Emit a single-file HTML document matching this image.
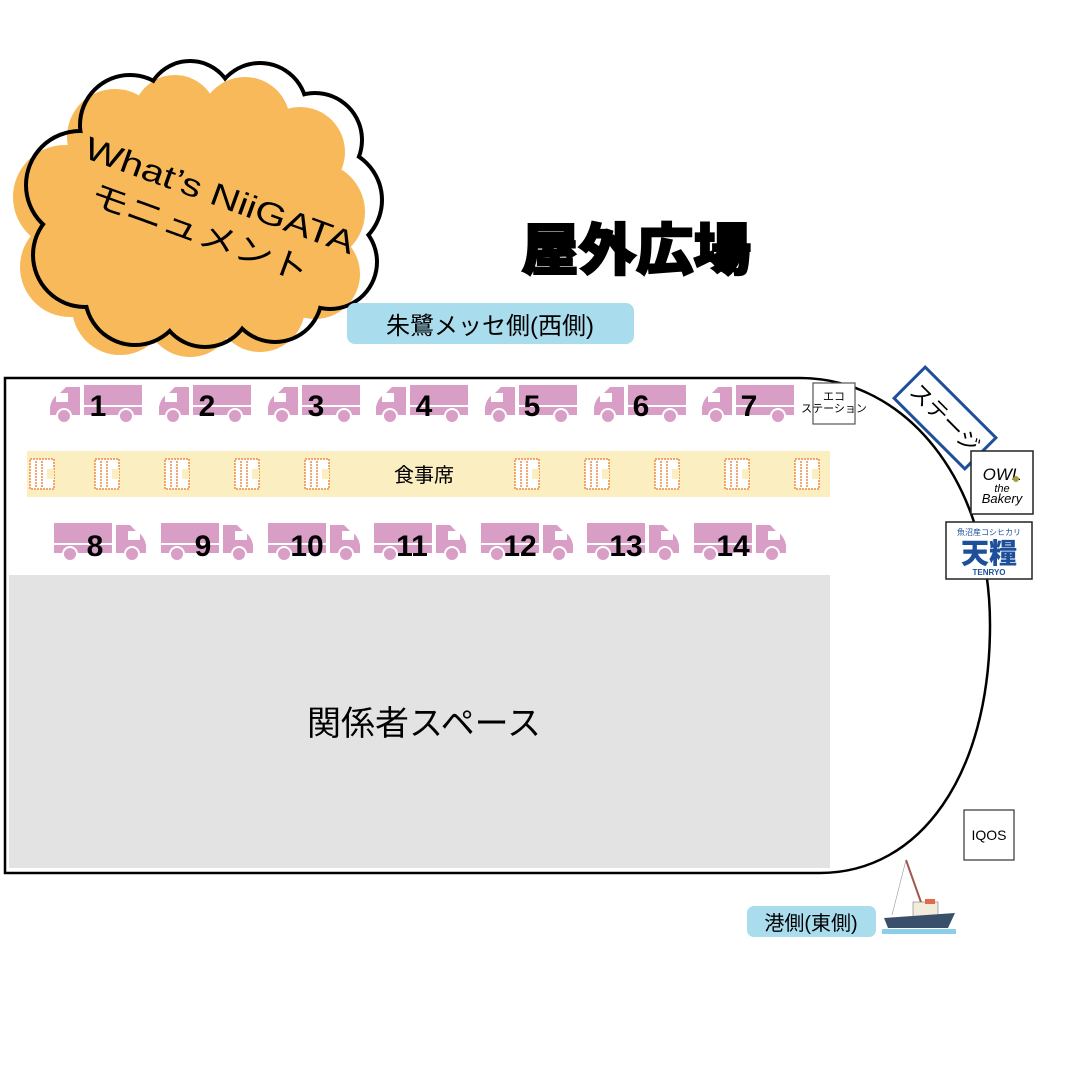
<!DOCTYPE html>
<html><head><meta charset="utf-8"><style>
html,body{margin:0;padding:0;background:#fff}
svg{display:block}
text{font-family:"Liberation Sans","Noto Sans CJK JP",sans-serif}
</style></head><body>
<svg width="1067" height="1067" viewBox="0 0 1067 1067" xmlns="http://www.w3.org/2000/svg">
<defs>
<g id="ob">
<ellipse cx="205" cy="205" rx="135" ry="100"/>
<circle cx="80" cy="185" r="52"/><circle cx="85" cy="255" r="50"/><circle cx="135" cy="295" r="48"/>
<circle cx="205" cy="300" r="45"/><circle cx="275" cy="295" r="45"/><circle cx="330" cy="262" r="45"/>
<circle cx="330" cy="200" r="50"/><circle cx="315" cy="140" r="45"/><circle cx="260" cy="110" r="45"/>
<circle cx="190" cy="105" r="42"/><circle cx="130" cy="125" r="48"/>
</g>
<mask id="m"><rect width="1067" height="1067" fill="#fff"/><use href="#ob" fill="#000"/></mask>
<g id="tl">
<path d="M2,30 L2,22 Q4,12 12,8 L18,2 L32,2 L32,30 Z" fill="#d89ec6"/>
<rect x="8" y="8" width="12" height="9" fill="#fff"/>
<rect x="36" y="0" width="58" height="20" fill="#d89ec6"/>
<rect x="36" y="22" width="58" height="8" fill="#d89ec6"/>
<circle cx="16" cy="31" r="7" fill="#d89ec6" stroke="#fff" stroke-width="2"/>
<circle cx="78" cy="31" r="7" fill="#d89ec6" stroke="#fff" stroke-width="2"/>
</g>
<g id="tr">
<g transform="translate(96,0) scale(-1,1)"><use href="#tl"/></g>
</g>
<g id="ch">
<rect x="0" y="0" width="24" height="30" fill="#fff" stroke="#f08a40" stroke-width="1.5" stroke-dasharray="2 1"/>
<line x1="6" y1="2" x2="6" y2="28" stroke="#f08a40" stroke-width="1.5" stroke-dasharray="2 1"/>
<line x1="12" y1="2" x2="12" y2="28" stroke="#f08a40" stroke-width="1.5" stroke-dasharray="2 1"/>
<rect x="17" y="10" width="7" height="10" fill="#fbeec0"/>
</g>
</defs>

<g transform="translate(-15,12)" fill="#f7b95a"><use href="#ob"/></g>
<g mask="url(#m)" fill="none" stroke="#000" stroke-width="8"><use href="#ob"/></g>
<g transform="rotate(20 215 200)">
<text x="218" y="205" font-family="Liberation Mono,monospace" font-size="32" text-anchor="middle" textLength="285" lengthAdjust="spacingAndGlyphs">What’s NiiGATA</text>
<text x="212" y="247" font-size="32" text-anchor="middle" textLength="230" lengthAdjust="spacingAndGlyphs">モニュメント</text>
</g>

<text x="636" y="270" font-size="56" font-weight="900" text-anchor="middle" stroke="#000" stroke-width="2" font-family="'Noto Sans CJK JP',sans-serif" textLength="230" lengthAdjust="spacingAndGlyphs">屋外広場</text>

<rect x="347" y="303" width="287" height="41" rx="8" fill="#a9dcec"/>
<text x="490" y="334" font-size="24" text-anchor="middle">朱鷺メッセ側(西側)</text>

<path d="M5,378 L800,378 C905,378 990,480 990,625 C990,775 920,873 820,873 L5,873 Z" fill="none" stroke="#000" stroke-width="2.5"/>

<rect x="27" y="451" width="803" height="46" fill="#fbeec0"/>
<g transform="translate(30,459)"><use href="#ch"/></g>
<g transform="translate(95,459)"><use href="#ch"/></g>
<g transform="translate(165,459)"><use href="#ch"/></g>
<g transform="translate(235,459)"><use href="#ch"/></g>
<g transform="translate(305,459)"><use href="#ch"/></g>
<g transform="translate(515,459)"><use href="#ch"/></g>
<g transform="translate(585,459)"><use href="#ch"/></g>
<g transform="translate(655,459)"><use href="#ch"/></g>
<g transform="translate(725,459)"><use href="#ch"/></g>
<g transform="translate(795,459)"><use href="#ch"/></g>
<text x="424" y="482" font-size="20" text-anchor="middle">食事席</text>

<g font-size="30" font-weight="bold" text-anchor="middle">
<g transform="translate(48,385)"><use href="#tl"/></g><text x="98" y="416">1</text>
<g transform="translate(157,385)"><use href="#tl"/></g><text x="207" y="416">2</text>
<g transform="translate(266,385)"><use href="#tl"/></g><text x="316" y="416">3</text>
<g transform="translate(374,385)"><use href="#tl"/></g><text x="424" y="416">4</text>
<g transform="translate(483,385)"><use href="#tl"/></g><text x="532" y="416">5</text>
<g transform="translate(592,385)"><use href="#tl"/></g><text x="641" y="416">6</text>
<g transform="translate(700,385)"><use href="#tl"/></g><text x="749" y="416">7</text>

<g transform="translate(52,523)"><use href="#tr"/></g><text x="95" y="556">8</text>
<g transform="translate(159,523)"><use href="#tr"/></g><text x="203" y="556">9</text>
<g transform="translate(266,523)"><use href="#tr"/></g><text x="307" y="556">10</text>
<g transform="translate(372,523)"><use href="#tr"/></g><text x="412" y="556">11</text>
<g transform="translate(479,523)"><use href="#tr"/></g><text x="520" y="556">12</text>
<g transform="translate(585,523)"><use href="#tr"/></g><text x="626" y="556">13</text>
<g transform="translate(692,523)"><use href="#tr"/></g><text x="733" y="556">14</text>
</g>

<rect x="813" y="383" width="42" height="41" fill="#fff" stroke="#555" stroke-width="1.2"/>
<text x="834" y="400" font-size="11" text-anchor="middle">エコ</text>
<text x="834" y="412" font-size="11" text-anchor="middle">ステーション</text>

<rect x="9" y="575" width="821" height="293" fill="#e3e3e3"/>
<text x="424" y="735" font-size="34" text-anchor="middle">関係者スペース</text>

<g transform="translate(945,418) rotate(45)">
<rect x="-50" y="-22" width="100" height="44" fill="#fff" stroke="#1d4f9a" stroke-width="3"/>
<text x="0" y="8" font-size="22" text-anchor="middle">ステージ</text>
</g>

<rect x="971" y="451" width="62" height="63" fill="#fff" stroke="#222" stroke-width="1.5"/>
<text x="1002" y="480" font-size="17" font-style="italic" text-anchor="middle" font-family="Liberation Serif,serif">OWL</text>
<text x="1002" y="492" font-size="11" font-style="italic" text-anchor="middle" font-family="Liberation Serif,serif">the</text>
<text x="1002" y="503" font-size="13" font-style="italic" text-anchor="middle" font-family="Liberation Serif,serif">Bakery</text>
<circle cx="1016" cy="479" r="3" fill="#a8a040"/>

<rect x="946" y="522" width="86" height="57" fill="#fff" stroke="#222" stroke-width="1.5"/>
<text x="989" y="535" font-size="8" fill="#1d4f9a" text-anchor="middle">魚沼産コシヒカリ</text>
<text x="989" y="563" font-size="28" font-weight="900" fill="#1d4f9a" text-anchor="middle" font-family="'Noto Serif CJK SC',serif">天糧</text>
<text x="989" y="575" font-size="8" fill="#1d4f9a" text-anchor="middle" font-family="Liberation Serif,serif" font-weight="bold">TENRYO</text>

<rect x="964" y="810" width="50" height="50" fill="#fff" stroke="#333" stroke-width="1.2"/>
<text x="989" y="840" font-size="14" text-anchor="middle">IQOS</text>

<line x1="906" y1="860" x2="922" y2="905" stroke="#a0584a" stroke-width="2"/>
<line x1="906" y1="860" x2="892" y2="915" stroke="#999" stroke-width="0.6"/>
<rect x="913" y="902" width="25" height="16" fill="#f2ecdc" stroke="#666" stroke-width="0.5"/>
<rect x="925" y="899" width="10" height="5" fill="#e26a4a"/>
<path d="M884,918 L955,913 L948,928 L888,928 Z" fill="#3a4f6a"/>
<rect x="882" y="929" width="74" height="5" fill="#8ccde8"/>
<rect x="747" y="906" width="129" height="31" rx="7" fill="#a9dcec"/>
<text x="811" y="930" font-size="20" text-anchor="middle">港側(東側)</text>
</svg>
</body></html>
